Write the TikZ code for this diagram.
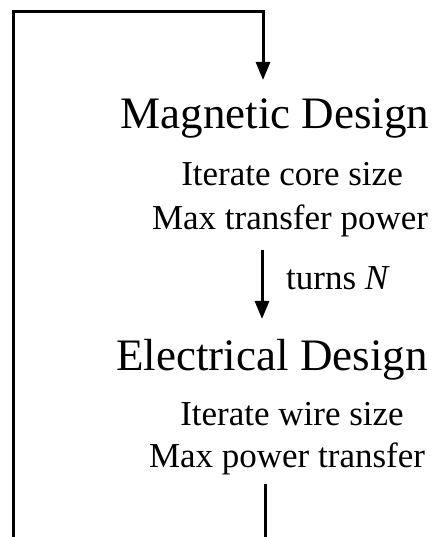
\documentclass[tikz,border=0pt]{standalone}
\usepackage{fontspec}
\setmainfont{Liberation Serif}
\usetikzlibrary{arrows.meta}
\begin{document}
\begin{tikzpicture}[x=1pt,y=1pt,
  head/.style={anchor=base,inner sep=0pt,font=\fontsize{45}{45}\selectfont},
  sub/.style={anchor=base,inner sep=0pt,font=\fontsize{35}{35}\selectfont},
  conn/.style={line width=3pt},
  arr/.style={conn,-{Triangle[width=14pt,length=18pt]}}]
\useasboundingbox (0,0) rectangle (436,537);
\node[head] (mag) at (275,408) {Magnetic Design};
\node[sub] (mag1) at (292,351) {Iterate core size};
\node[sub] (mag2) at (290,307) {Max transfer power};
\node[head] (ele) at (272,166) {Electrical Design};
\node[sub] (ele1) at (292,111) {Iterate wire size};
\node[sub] (ele2) at (287,69) {Max power transfer};
\coordinate (a1) at (262,287);
\coordinate (a2) at (262,218);
\node[sub,anchor=base west] (turns) at (286,247) {turns \textit{N}};
\coordinate (b1) at (265,53);
\coordinate (b2) at (265,-2);
\coordinate (l0) at (13,-2);
\coordinate (l1) at (13,525);
\coordinate (l2) at (263,525);
\coordinate (l3) at (263,457);
\draw[arr] (a1) -- (a2);
\draw[conn] (b1) -- (b2);
\draw[arr] (l0) -- (l1) -- (l2) -- (l3);
\end{tikzpicture}
\end{document}
